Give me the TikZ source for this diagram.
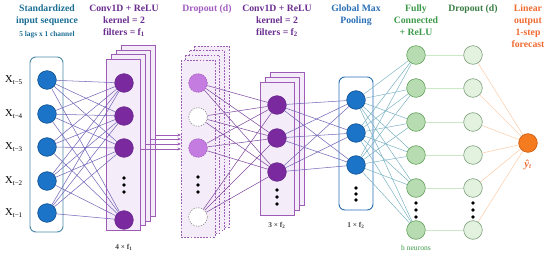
\documentclass[tikz,border=0pt]{standalone}
\usepackage{fontspec}
\setmainfont{Liberation Serif}
\usetikzlibrary{arrows.meta}

\definecolor{inblue}{HTML}{1B6E94}
\definecolor{nblue}{HTML}{1C74C8}
\definecolor{nbluedk}{HTML}{12508E}
\definecolor{poolblue}{HTML}{2A6FB5}
\definecolor{cpurple}{HTML}{6A2C8E}
\definecolor{npurple}{HTML}{7A2A9E}
\definecolor{boxpurple}{HTML}{9D5CB5}
\definecolor{boxfill}{HTML}{F5ECFA}
\definecolor{lpurple}{HTML}{C47CE0}
\definecolor{dpurple}{HTML}{A05CC0}
\definecolor{fcgreen}{HTML}{B8DCB2}
\definecolor{fcedge}{HTML}{5E9E56}
\definecolor{drgreen}{HTML}{E3F1DF}
\definecolor{dredge}{HTML}{7A9E78}
\definecolor{tgreen}{HTML}{3D9A4A}
\definecolor{tgreendk}{HTML}{3A7D44}
\definecolor{outorange}{HTML}{F47B20}
\definecolor{outedge}{HTML}{C85A10}
\definecolor{torange}{HTML}{F06A30}
\definecolor{inline}{HTML}{7468B8}
\definecolor{pfline}{HTML}{74AEC0}

\begin{document}
\begin{tikzpicture}[x=0.03cm,y=-0.03cm,
	neuron/.style={circle,minimum size=0.56cm,inner sep=0pt,line width=0.5pt},
	title/.style={font=\fontsize{8.3}{10.2}\selectfont\bfseries,align=center,anchor=north,inner sep=0pt},
	small/.style={font=\fontsize{6.3}{7.5}\selectfont\bfseries,inner sep=0pt},
	dot/.style={circle,fill=black,inner sep=0pt,minimum size=3.2pt},
	convbox/.style={draw=boxpurple,fill=boxfill,line width=0.6pt},
	dropbox/.style={draw=boxpurple,fill=boxfill,line width=0.6pt,dash pattern=on 1.5pt off 1.2pt}]
	\useasboundingbox (0,0) rectangle (550,257);

	% titles
	\node[title,text=inblue] at (47,5) {Standardized\\input sequence};
	\node[small,text=inblue] at (47,35) {5 lags x 1 channel};
	\node[title,text=cpurple] at (124,5) {Conv1D + ReLU\\kernel = 2\\filters = f\textsubscript{1}};
	\node[title,text=dpurple] at (207,5) {Dropout (d)};
	\node[title,text=cpurple] at (277,5) {Conv1D + ReLU\\kernel = 2\\filters = f\textsubscript{2}};
	\node[title,text=poolblue] at (356,5) {Global Max\\Pooling};
	\node[title,text=tgreen] at (416,5) {Fully\\Connected\\+ ReLU};
	\node[title,text=tgreendk] at (473,5) {Dropout (d)};
	\node[title,text=torange] at (528,5) {Linear\\output\\1-step\\forecast};

	% input sequence
	\draw[inblue!80,line width=0.8pt,rounded corners=5pt] (30,57) rectangle (63,232);
	\foreach \i/\y/\t in {1/80/5,2/114/4,3/147/3,4/181/2,5/213/1} {
		\node[neuron,fill=nblue,draw=nbluedk] (in\i) at (47,\y) {};
		\node[font=\fontsize{9}{10}\selectfont] (xl\i) at (14,\y) {X\textsubscript{t−\t}};
	}

	% conv1d, f1 filters
	\foreach \k in {3,2,1,0}
		\draw[convbox] ({106+5*\k},{59-4.5*\k}) rectangle ({140+5*\k},{230-4.5*\k});
	\foreach \i/\y in {1/83,2/116,3/148,4/220}
		\node[neuron,fill=npurple,draw=cpurple] (ca\i) at (124,\y) {};
	\foreach \y in {178,185,192} \node[dot] at (124,\y) {};
	\node[small,text=black!75] (na) at (124,247) {4 × f\textsubscript{1}};

	% feature maps into dropout
	\foreach \k/\y in {0/149,1/144,2/139,3/135} {
		\coordinate (fa\k) at ({140+5*\k},\y);
		\coordinate (fb\k) at (181,\y);
		\draw[boxpurple,line width=0.6pt,-{Stealth[length=3pt,width=2.5pt]}] (fa\k) -- (fb\k);
	}

	% dropout on maps
	\foreach \k in {3,2,1,0}
		\draw[dropbox] ({181+4.3*\k},{60-4.7*\k}) rectangle ({215+4.7*\k},{237-3.3*\k});
	\node[neuron,fill=lpurple,draw=boxpurple,dash pattern=on 1.2pt off 1pt] (da1) at (198,83) {};
	\node[neuron,fill=white,draw=black!45,dash pattern=on 1.2pt off 1pt] (da2) at (198,117) {};
	\node[neuron,fill=lpurple,draw=boxpurple,dash pattern=on 1.2pt off 1pt] (da3) at (198,148) {};
	\node[neuron,fill=white,draw=black!45,dash pattern=on 1.2pt off 1pt] (da4) at (198,217) {};
	\foreach \y in {177,185,192} \node[dot] at (198,\y) {};

	% conv1d, f2 filters
	\foreach \k in {2,1,0}
		\draw[convbox] ({260+5*\k},{82-5*\k}) rectangle ({294+5*\k},{215-5*\k});
	\foreach \i/\y in {1/105,2/138,3/172}
		\node[neuron,fill=npurple,draw=cpurple] (cb\i) at (277,\y) {};
	\foreach \y in {190,197,204} \node[dot] at (277,\y) {};
	\node[small,text=black!75] (nb) at (277,225) {3 × f\textsubscript{2}};

	% global max pooling
	\draw[poolblue,line width=0.8pt,rounded corners=5pt] (339,77) rectangle (373,210);
	\foreach \i/\y in {1/100,2/133,3/165}
		\node[neuron,fill=nblue,draw=nbluedk] (gp\i) at (356,\y) {};
	\foreach \y in {188,194,200} \node[dot] at (356,\y) {};
	\node[small,text=black!75] (nc) at (356,225) {1 × f\textsubscript{2}};

	% dense + dropout
	\foreach \i/\y in {1/55,2/88,3/122,4/155,5/188,6/230} {
		\node[neuron,fill=fcgreen,draw=fcedge] (fc\i) at (416,\y) {};
		\node[neuron,fill=drgreen,draw=dredge] (dr\i) at (473,\y) {};
	}
	\foreach \y in {203,210,217} {
		\node[dot] at (416,\y) {};
		\node[dot] at (473,\y) {};
	}
	\node[font=\fontsize{6.5}{7.5}\selectfont,text=tgreen] (nd) at (416,248) {h neurons};

	% output
	\node[neuron,fill=outorange,draw=outedge] (out) at (528,143) {};
	\node[font=\fontsize{9}{10}\selectfont\bfseries\itshape,text=torange] (yt) at (528,165) {ŷ\textsubscript{t}};

	% connections
	\foreach \i in {1,...,5}
		\foreach \j in {1,...,4}
			\draw[inline,line width=0.45pt] (in\i) -- (ca\j);
	\foreach \i in {1,...,4}
		\foreach \j in {1,...,3}
			\draw[cpurple!85,line width=0.45pt] (da\i) -- (cb\j);
	\foreach \i in {1,...,3}
		\foreach \j in {1,...,3}
			\draw[inline,line width=0.45pt] (cb\i) -- (gp\j);
	\foreach \i in {1,...,3}
		\foreach \j in {1,...,6}
			\draw[pfline,line width=0.4pt] (gp\i) -- (fc\j);
	\foreach \i in {1,...,6} {
		\draw[fcgreen!70,line width=0.5pt] (fc\i) -- (dr\i);
		\draw[outorange!35,line width=0.5pt] (dr\i) -- (out);
	}
\end{tikzpicture}
\end{document}
